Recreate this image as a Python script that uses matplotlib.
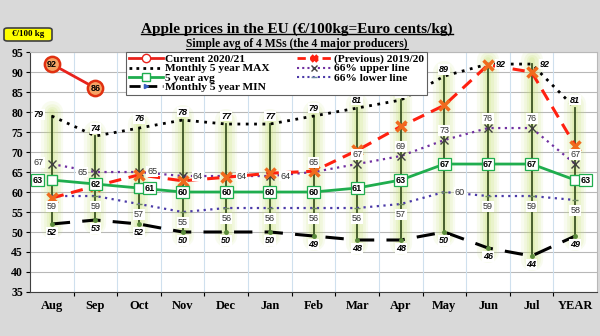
import numpy as np
import matplotlib.pyplot as plt
from matplotlib.lines import Line2D
from matplotlib.patches import FancyBboxPatch

# datos
months = ['Aug', 'Sep', 'Oct', 'Nov', 'Dec', 'Jan', 'Feb', 'Mar', 'Apr', 'May', 'Jun', 'Jul', 'YEAR']
current = [92, 86]
previous = [58.5, 61.5, 64.3, 62.8, 63.7, 64.7, 65.2, 70.4, 76.4, 81.7, 91.8, 90.0, 71.6]
max5 = [79, 74, 76, 78, 77, 77, 79, 81, 83, 89, 92, 92, 81]
min5 = [52, 53, 52, 50, 50, 50, 49, 48, 48, 50, 46, 44, 49]
avg5 = [63, 62, 61, 60, 60, 60, 60, 61, 63, 67, 67, 67, 63]
upper = [67, 65, 65, 64, 64, 64, 65, 67, 69, 73, 76, 76, 67]
lower = [59, 59, 57, 55, 56, 56, 56, 56, 57, 60, 59, 59, 58]

serif = 'Liberation Serif'
sans = 'Liberation Sans'

fig = plt.figure(figsize=(6, 3.36), dpi=100, facecolor='#d9d9d9')
ax = fig.add_axes([0.05, 0.131, 0.945, 0.714])
ax.set_facecolor('white')

x = np.arange(len(months)) + 0.5
ax.set_xlim(0, len(months))
ax.set_ylim(35, 95)

# rejilla
for yv in range(35, 96, 5):
    ax.axhline(yv, color='#b8b8b8', lw=0.8, zorder=0)
for xv in range(1, len(months)):
    ax.axvline(xv, color='#cfe0ee', lw=0.8, zorder=0)

# brillo verde detras de las barras min-max
for i in range(len(months)):
    for lw, a in [(16, 0.10), (12, 0.13), (8, 0.16), (4, 0.2)]:
        ax.plot([x[i], x[i]], [min5[i] - 1, max5[i] + 1], color='#c4e06a', lw=lw,
                alpha=a, solid_capstyle='round', zorder=1)
    ax.plot([x[i], x[i]], [min5[i], max5[i]], color='#3b5323', lw=1.3, zorder=2)

# series
ax.plot(x, max5, color='black', ls=(0, (1, 2)), lw=2, zorder=3)
ax.plot(x, min5, color='black', ls=(0, (6, 4)), lw=2.2, marker='o', ms=2.5,
        mfc='#5a8a3a', mec='#5a8a3a', zorder=3)
ax.plot(x, lower, color='#4b3aa8', ls=(0, (1, 2)), lw=1.6, marker='_', ms=4,
        mec='#6a8a5a', zorder=3)
ax.plot(x, upper, color='#7030a0', ls=(0, (1, 2)), lw=1.6, marker='x', ms=6,
        mec='#404040', mew=1, zorder=3)
ax.plot(x, avg5, color='#1fad4e', lw=2, marker='s', ms=7, mfc='white',
        mec='#1fad4e', mew=1, zorder=4)
ax.plot(x, previous, color='#ff2010', ls=(0, (4, 2.5)), lw=2.2, marker='x', ms=6.5,
        mec='#f06a1d', mew=2.5, zorder=5)
ax.plot(x[:len(current)], current, color='#e8221c', lw=2, marker='o', ms=11,
        mfc='#f6a464', mec='#e03010', mew=1.8, zorder=6)

# etiquetas
wbox = dict(boxstyle='square,pad=0.1', fc='white', ec='none')
for i, v in enumerate(current):
    ax.text(x[i], v, str(v), ha='center', va='center', fontsize=6.5,
            fontweight='bold', family=sans, zorder=7)

max_off = [(-0.3, 0.3), (0, 1.8), (0, 2.3), (0, 2.0), (0, 2.0), (0, 2.0), (0, 2.0),
           (0, 2.0), (0, 1.9), (0, 1.7), (0.3, 0), (0.3, 0), (0, 2.0)]
for i, v in enumerate(max5):
    dx, dy = max_off[i]
    ax.text(x[i] + dx, v + dy, str(v), ha='center', va='center', fontsize=6.5,
            fontweight='bold', style='italic', family=sans, bbox=wbox, zorder=7)

for i, v in enumerate(min5):
    ax.text(x[i], v - 2.1, str(v), ha='center', va='center', fontsize=6.5,
            fontweight='bold', style='italic', family=sans, bbox=wbox, zorder=7)

up_off = [(-0.3, 0.3), (-0.3, 0), (0.3, 0.2), (0.35, 0), (0.35, 0), (0.35, 0),
          (0, 2.3), (0, 2.3), (0, 2.3), (0, 2.3), (0, 2.3), (0, 2.3), (0, 2.3)]
for i, v in enumerate(upper):
    dx, dy = up_off[i]
    ax.text(x[i] + dx, v + dy, str(v), ha='center', va='center', fontsize=6.5,
            color='#303030', family=sans, bbox=wbox, zorder=7)

for i, v in enumerate(lower):
    dy = -2.6
    dx = 0.35 if i == 9 else 0
    if i == 9:
        dy = 0
    ax.text(x[i] + dx, v + dy, str(v), ha='center', va='center', fontsize=6.5,
            color='#303030', family=sans, bbox=wbox, zorder=7)

avg_off = [-0.33, 0, 0.25, 0, 0, 0, 0, 0, 0, 0, 0, 0, 0.23]
gbox = dict(boxstyle='square,pad=0.15', fc='white', ec='#1fad4e', lw=0.9)
for i, v in enumerate(avg5):
    ax.text(x[i] + avg_off[i], v, str(v), ha='center', va='center', fontsize=6.5,
            fontweight='bold', family=sans, bbox=gbox, zorder=8)

# ejes
ax.set_xticks(np.arange(1, len(months)), minor=False)
ax.set_xticklabels([])
ax.set_xticks(x, minor=True)
ax.set_xticklabels(months, minor=True, fontsize=9, fontweight='bold', family=serif)
ax.tick_params(axis='x', which='minor', length=0, pad=6)
ax.tick_params(axis='x', which='major', length=3, direction='out')
ax.set_yticks(range(35, 96, 5))
ax.set_yticklabels([str(v) for v in range(35, 96, 5)], fontsize=8.5,
                   fontweight='bold', family=serif)
ax.tick_params(axis='y', length=3, pad=2)
for s in ['top', 'right']:
    ax.spines[s].set_color('#b8b8b8')
for s in ['left', 'bottom']:
    ax.spines[s].set_color('#404040')

# leyenda
handles = [
    Line2D([], [], color='#e8221c', lw=2, marker='o', ms=6, mfc='white', mec='#e8221c'),
    Line2D([], [], color='black', ls=(0, (1, 1.5)), lw=2),
    Line2D([], [], color='#1fad4e', lw=2, marker='s', ms=6, mfc='white', mec='#1fad4e'),
    Line2D([], [], color='black', ls=(0, (4, 2)), lw=2, marker='>', ms=3,
           mfc='#3a60c0', mec='#3a60c0'),
    Line2D([], [], color='#ff2010', ls=(0, (3, 1.5)), lw=2, marker='x', ms=5,
           mec='#ff2010', mew=2.5),
    Line2D([], [], color='#7030a0', ls=(0, (1, 1.5)), lw=1.5, marker='x', ms=5,
           mec='#404040', mew=1),
    Line2D([], [], color='#4b3aa8', ls=(0, (1, 1.5)), lw=1.5, marker='_', ms=5,
           mec='#6a8aa0'),
]
labels = ['Current 2020/21', 'Monthly 5 year MAX', '5 year avg', 'Monthly 5 year MIN',
          '(Previous) 2019/20', '66% upper line', '66% lower line']
leg = fig.legend(handles, labels, ncol=2, loc='upper left',
                 bbox_to_anchor=(0.21, 0.846), frameon=True,
                 fancybox=False, edgecolor='#606060', framealpha=1,
                 labelspacing=0.0, handlelength=3.0, handleheight=0.5,
                 handletextpad=0.2, columnspacing=2.4, borderpad=0.25,
                 borderaxespad=0,
                 prop={'family': serif, 'weight': 'bold', 'size': 8.2})
leg.get_frame().set_linewidth(0.8)
leg.set_zorder(10)

# titulos
t1 = fig.text(0.495, 0.914, 'Apple prices in the EU (€/100kg=Euro cents/kg)',
              ha='center', va='center', fontsize=11, fontweight='bold', family=serif)
t2 = fig.text(0.495, 0.869, 'Simple avg of 4 MSs (the 4 major producers)',
              ha='center', va='center', fontsize=8.4, fontweight='bold', family=serif)

# recuadro amarillo de unidades
fig.patches.append(FancyBboxPatch((4 / 600, 1 - 41 / 336), 48 / 600, 13 / 336,
                                  boxstyle='round,pad=0,rounding_size=0.006',
                                  transform=fig.transFigure, fc='#ffff00',
                                  ec='#404040', lw=1.2))
fig.text(28 / 600, 1 - 34 / 336, '€/100 kg', ha='center', va='center', fontsize=6.5,
         fontweight='bold', family=serif)

# subrayado de los titulos
fig.canvas.draw()
inv = fig.transFigure.inverted()
for t, lw in [(t1, 1.0), (t2, 0.8)]:
    bb = t.get_window_extent().transformed(inv)
    fig.add_artist(Line2D([bb.x0, bb.x1], [bb.y0 + 0.004] * 2,
                          transform=fig.transFigure, color='black', lw=lw))

fig.savefig('out.png', dpi=100, facecolor=fig.get_facecolor())
